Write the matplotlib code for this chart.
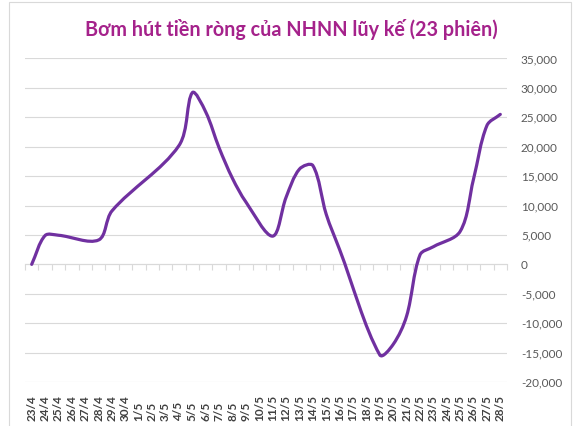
import matplotlib
matplotlib.use('Agg')
import matplotlib.pyplot as plt
import matplotlib.patches as patches
from matplotlib.path import Path
import numpy as np

plt.rcParams['font.family'] = ['Lato', 'DejaVu Sans']

# category labels on the x axis (calendar days)
dates = ['23/4', '24/4', '25/4', '26/4', '27/4', '28/4', '29/4', '30/4',
         '1/5', '2/5', '3/5', '4/5', '5/5', '6/5', '7/5', '8/5', '9/5',
         '10/5', '11/5', '12/5', '13/5', '14/5', '15/5', '16/5', '17/5',
         '18/5', '19/5', '20/5', '21/5', '22/5', '23/5', '24/5', '25/5',
         '26/5', '27/5', '28/5']

# points of the cumulative series
point_dates = ['23/4', '24/4', '25/4', '28/4', '29/4', '4/5', '5/5', '6/5',
               '7/5', '8/5', '9/5', '11/5', '12/5', '13/5', '14/5', '15/5',
               '16/5', '19/5', '20/5', '21/5', '22/5', '23/5', '25/5',
               '26/5', '27/5', '28/5']
point_values = [0, 4900, 4950, 4150, 9100, 20200, 29200, 25900,
                19800, 14600, 10600, 4800, 11400, 16200, 16800, 8500,
                2500, -15400, -13600, -8800, 1600, 3000, 5600, 14500,
                23600, 25500]

yticks = list(range(-20000, 35001, 5000))
title = 'Bơm hút tiền ròng của NHNN lũy kế (23 phiên)'

LINE = '#7030A0'
GRID = '#D9D9D9'
TXT = '#595959'


def smooth_path(xs, ys, sx, sy):
    """Smoothed line as cubic Bezier segments, tangents weighted by
    on-screen segment length (sx, sy = pixels per data unit)"""
    pts = np.column_stack([xs, ys]).astype(float)
    scr = pts * [sx, sy]
    seg = np.hypot(*np.diff(scr, axis=0).T)
    n = len(pts)
    verts = [pts[0]]
    codes = [Path.MOVETO]
    for i in range(n - 1):
        a = max(i - 1, 0)
        b = min(i + 2, n - 1)
        d_prev = seg[i - 1] if i > 0 else 0.0
        d_next = seg[i + 1] if i + 2 < n else 0.0
        d = seg[i]
        c1 = pts[i] + (pts[i + 1] - pts[a]) * d / (3 * (d_prev + d))
        c2 = pts[i + 1] - (pts[b] - pts[i]) * d / (3 * (d + d_next))
        verts += [c1, c2, pts[i + 1]]
        codes += [Path.CURVE4] * 3
    return Path(verts, codes)


fig = plt.figure(figsize=(5.74, 4.26), dpi=100)
W, H = 574, 426
left, right, top, bottom = 25, 507, 58.5, 382
ax = fig.add_axes([left / W, 1 - bottom / H, (right - left) / W, (bottom - top) / H])

ax.set_xlim(-0.5, len(dates) - 0.5)
ax.set_ylim(yticks[0], yticks[-1])

xs = [dates.index(d) for d in point_dates]
sx = (right - left) / len(dates)
sy = (bottom - top) / (yticks[-1] - yticks[0])
ax.add_patch(patches.PathPatch(smooth_path(xs, point_values, sx, sy),
                               facecolor='none', edgecolor=LINE, lw=2.3,
                               capstyle='round', joinstyle='round', zorder=3))

# y axis on the right
ax.yaxis.tick_right()
ax.set_yticks(yticks)
ax.set_yticklabels([f'{v:,}' for v in yticks])
ax.tick_params(axis='y', length=0, pad=10, labelsize=8.5, labelcolor=TXT)
ax.grid(axis='y', color=GRID, lw=0.8)
ax.set_axisbelow(True)

for s in ['top', 'left', 'right']:
    ax.spines[s].set_visible(False)
ax.spines['bottom'].set_position(('data', 0))
ax.spines['bottom'].set_color(GRID)
ax.spines['bottom'].set_linewidth(0.8)

ax.set_xticks(range(len(dates)))
ax.set_xticks(np.arange(-0.5, len(dates), 1), minor=True)
ax.tick_params(axis='x', which='major', length=0, labelbottom=False)
ax.tick_params(axis='x', which='minor', length=4, width=0.8, color=GRID)

# date labels at the low end of the plot
sec = ax.secondary_xaxis(0)
sec.set_xticks(range(len(dates)))
sec.set_xticklabels(dates, rotation=90, fontweight='bold', fontsize=8.5,
                    color='#404040', va='bottom')
sec.tick_params(length=0, pad=28)
sec.spines['bottom'].set_visible(False)

fig.text(291 / W, 1 - 30 / H, title, ha='center', va='center',
         fontsize=14.2, fontweight='bold', color='#A5228B')

# outer chart frame
fig.patches.append(patches.Rectangle((8.5 / W, -0.05), (570.5 - 8.5) / W,
                                     1.05 - 1.5 / H, transform=fig.transFigure,
                                     fill=False, edgecolor=GRID, lw=0.8))

fig.savefig('out.png', dpi=100)
plt.close(fig)
